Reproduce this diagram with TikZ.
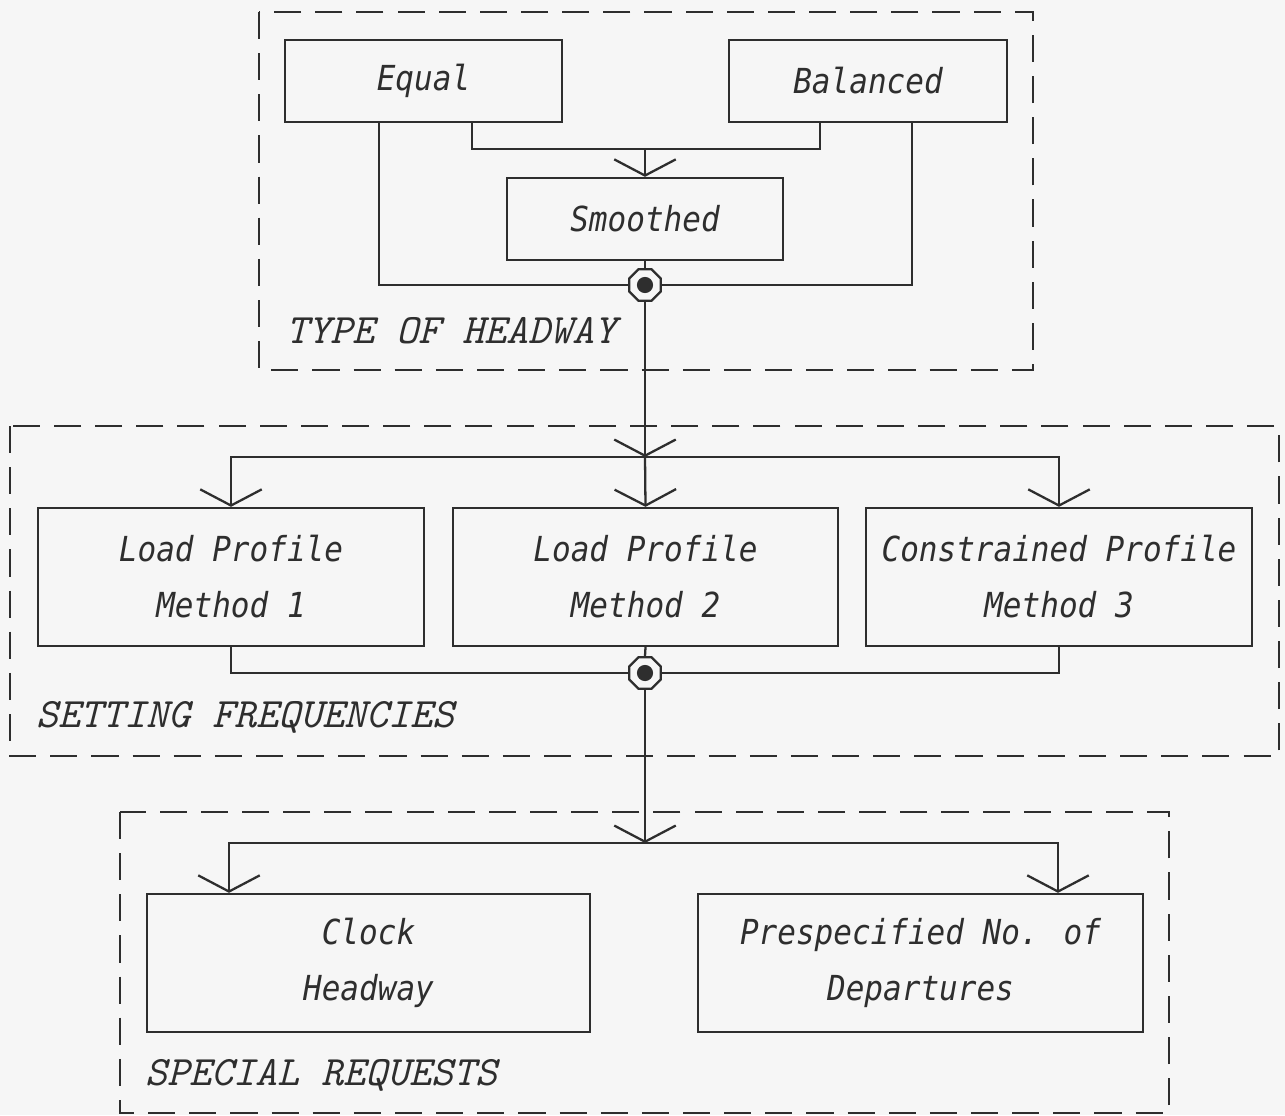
\documentclass[tikz,border=0pt]{standalone}
\usepackage{fontspec}
\usetikzlibrary{arrows.meta,shapes.geometric}
\newfontfamily\boxfont{DejaVu Sans Mono}[FakeStretch=0.9]
\definecolor{ink}{HTML}{2E2E2E}
\definecolor{paper}{HTML}{F6F6F6}
\tikzset{
  conn/.style={draw=ink, line width=0.65pt},
  arr/.style={conn, -{Straight Barb[length=4.6pt,width=17.5pt,line width=0.65pt]}},
  box/.style={draw=ink, line width=0.65pt, inner sep=0pt, align=center, text=ink,
    font=\boxfont\itshape\fontsize{9.8}{15.9}\selectfont},
  frame/.style={draw=ink, line width=0.65pt, dash pattern=on 7.7pt off 4pt},
  lab/.style={text=ink, inner sep=0pt, font=\ttfamily\itshape\fontsize{11.9}{14}\selectfont},
  junc/.style={regular polygon, regular polygon sides=8, draw=ink, line width=0.65pt,
    minimum size=0.34cm, inner sep=0pt},
}
\begin{document}
\begin{tikzpicture}[x=0.01cm,y=-0.01cm]
\fill[paper] (0,0) rectangle (1285,1115);
\useasboundingbox (0,0) rectangle (1285,1115);

% frames
\draw[frame] (259,12) rectangle (1033,370);
\draw[frame] (10,426) rectangle (1279,756);
\draw[frame] (120,812) rectangle (1169,1113);

% block 1
\node[box, minimum width=2.77cm, minimum height=0.82cm] (equal) at (423.5,81) {Equal};
\node[box, minimum width=2.78cm, minimum height=0.82cm] (balanced) at (868,81) {Balanced};
\node[box, minimum width=2.76cm, minimum height=0.82cm] (smoothed) at (645,219) {Smoothed};
\node[junc] (j1) at (645,285) {};
\fill[ink] (j1.center) circle[radius=2.3pt];
\node[lab, anchor=base west] (l1) at (286,343) {TYPE OF HEADWAY};

\coordinate (a1) at (472,0);
\coordinate (a2) at (820,0);
\coordinate (a3) at (379,0);
\coordinate (a4) at (912,0);
\coordinate (c1) at (645,149);
\coordinate (c2) at (645,457);
\coordinate (c3) at (645,843);

\draw[conn] (equal.south -| a1) |- (c1) -| (balanced.south -| a2);
\draw[arr] (c1) -- (smoothed.north);
\draw[conn] (equal.south -| a3) |- (j1.west);
\draw[conn] (balanced.south -| a4) |- (j1.east);
\draw[conn] (smoothed.south) -- (j1.north);
\draw[arr] (j1.south) -- (c2);

% block 2
\node[box, minimum width=3.86cm, minimum height=1.38cm] (m1) at (231,577) {Load Profile\\Method 1};
\node[box, minimum width=3.85cm, minimum height=1.38cm] (m2) at (645.5,577) {Load Profile\\Method 2};
\node[box, minimum width=3.86cm, minimum height=1.38cm] (m3) at (1059,577) {Constrained Profile\\Method 3};
\node[junc] (j2) at (645,673) {};
\fill[ink] (j2.center) circle[radius=2.3pt];
\node[lab, anchor=base west] (l2) at (36,727) {SETTING FREQUENCIES};

\draw[arr] (c2) -| (m1.north);
\draw[arr] (c2) -| (m3.north);
\draw[arr] (c2) -- (m2.north);
\draw[conn] (m1.south) |- (j2.west);
\draw[conn] (m3.south) |- (j2.east);
\draw[conn] (m2.south) -- (j2.north);
\draw[arr] (j2.south) -- (c3);

% block 3
\node[box, minimum width=4.43cm, minimum height=1.38cm] (clock) at (368.5,963) {Clock\\Headway};
\node[box, minimum width=4.45cm, minimum height=1.38cm] (pre) at (920.5,963) {Prespecified No. of\\Departures};
\node[lab, anchor=base west] (l3) at (145,1085) {SPECIAL REQUESTS};

\coordinate (d1) at (229,0);
\coordinate (d2) at (1058,0);
\draw[arr] (c3) -| (clock.north -| d1);
\draw[arr] (c3) -| (pre.north -| d2);
\end{tikzpicture}
\end{document}
